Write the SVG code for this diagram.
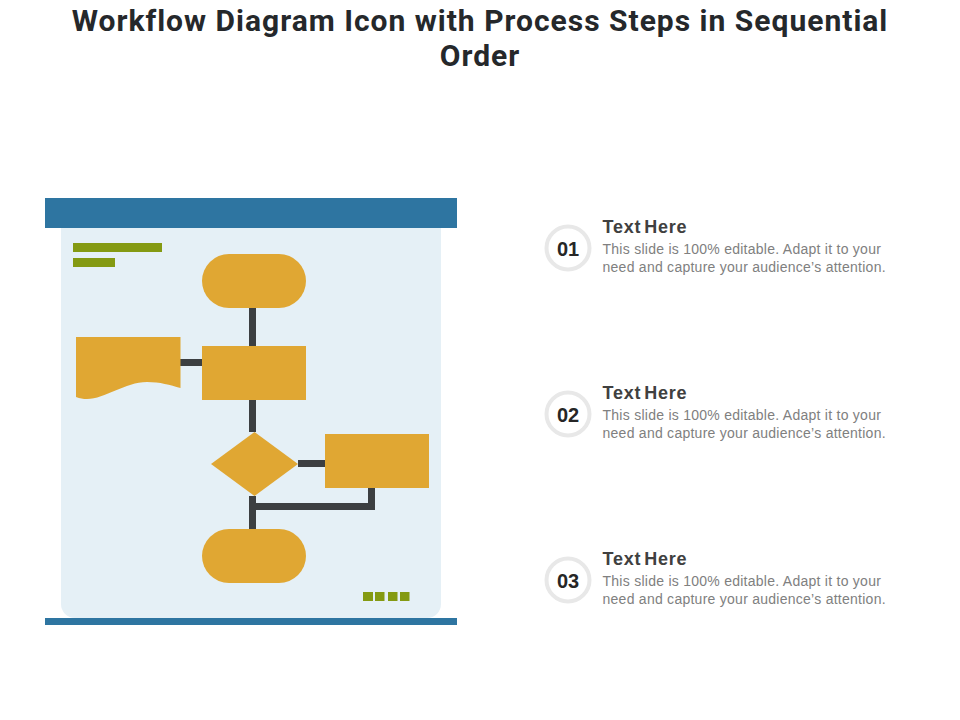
<svg xmlns="http://www.w3.org/2000/svg" width="960" height="720" viewBox="0 0 960 720">
<style>
.title{font-family:"Roboto","Liberation Sans",sans-serif;font-weight:700;font-size:30px;fill:#25282b;text-anchor:middle;letter-spacing:1px}
.blue{fill:#2e75a1}.panel{fill:#e5f0f6}.green{fill:#849a12}.org{fill:#e0a733}
.line{fill:none;stroke:#3c3f41;stroke-width:7}
.ring{fill:#fff;stroke:#e8e8e8;stroke-width:4}
.num{font-family:"Liberation Sans",Arial,sans-serif;font-weight:700;font-size:20px;fill:#262626;text-anchor:middle}
.head{font-family:"Liberation Sans",Arial,sans-serif;font-weight:700;font-size:18px;fill:#404040;letter-spacing:.8px;word-spacing:-3px}
.body{font-family:"Liberation Sans",Arial,sans-serif;font-size:14px;fill:#808080;letter-spacing:.26px}
</style>
<g id="title"><text class="title" x="480" y="31">Workflow Diagram Icon with Process Steps in Sequential</text><text class="title" x="480" y="66">Order</text></g>
<g id="board">
<path class="panel" d="M61 228H441V604a14 14 0 0 1-14 14H75a14 14 0 0 1-14-14Z"/>
<rect class="blue" x="45" y="198" width="412" height="30"/>
<rect class="blue" x="45" y="618" width="412" height="7"/>
<rect class="green" x="73" y="243" width="89" height="9"/>
<rect class="green" x="73" y="258" width="42" height="9"/>
<rect class="green" x="363" y="592" width="10" height="9"/>
<rect class="green" x="375" y="592" width="9.500" height="9"/>
<rect class="green" x="388" y="592" width="9.500" height="9"/>
<rect class="green" x="400" y="592" width="9.500" height="9"/>
</g>
<g id="connectors">
<path class="line" d="M252.500 308V346M252.500 400V432M252.500 496V529M180 362.500H202M298 463.500H325M371.500 488V506.500H252.500"/>
</g>
<g id="start"><rect class="org" x="202" y="254" width="104" height="54" rx="27"/></g>
<g id="document"><path class="org" d="M76 337H180.500V388C170 385 160 382 147 382C125 382 105 399 87 399C83 399 80 398.500 76 397Z"/></g>
<g id="process-1"><rect class="org" x="202" y="346" width="104" height="54"/></g>
<g id="decision"><path class="org" d="M254.500 432L298 464L254.500 496L211 464Z"/></g>
<g id="process-2"><rect class="org" x="325" y="434" width="104" height="54"/></g>
<g id="end"><rect class="org" x="202" y="529" width="104" height="54" rx="27"/></g>
<g id="step-1"><circle class="ring" cx="568" cy="248" r="21.500"/><text class="num" x="568" y="256">01</text><text class="head" x="602.500" y="233">Text Here</text><text class="body" x="602.500" y="254">This slide is 100% editable. Adapt it to your</text><text class="body" x="602.500" y="272">need and capture your audience’s attention.</text></g>
<g id="step-2"><circle class="ring" cx="568" cy="414" r="21.500"/><text class="num" x="568" y="422">02</text><text class="head" x="602.500" y="399">Text Here</text><text class="body" x="602.500" y="420">This slide is 100% editable. Adapt it to your</text><text class="body" x="602.500" y="438">need and capture your audience’s attention.</text></g>
<g id="step-3"><circle class="ring" cx="568" cy="580" r="21.500"/><text class="num" x="568" y="588">03</text><text class="head" x="602.500" y="565">Text Here</text><text class="body" x="602.500" y="586">This slide is 100% editable. Adapt it to your</text><text class="body" x="602.500" y="604">need and capture your audience’s attention.</text></g>
</svg>
